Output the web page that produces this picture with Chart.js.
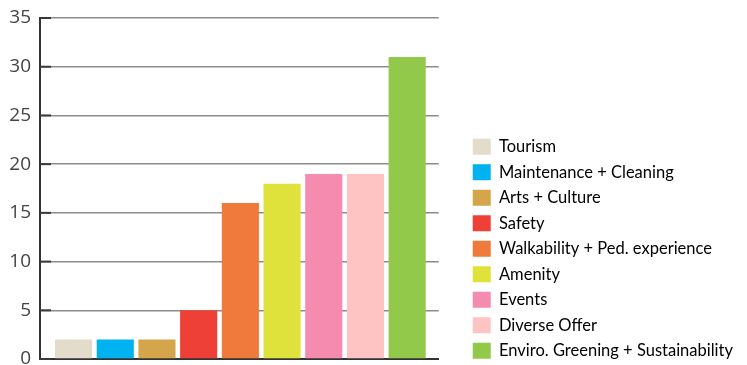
<!DOCTYPE html>
<html>
<head>
<meta charset="utf-8">
<script src="https://cdn.jsdelivr.net/npm/chart.js@4"></script>
<style>
  html, body { margin: 0; padding: 0; background: #fff; }
  #wrap { width: 747px; height: 365px; }
</style>
</head>
<body>
<div id="wrap"><canvas id="chart"></canvas></div>
<script>
const categories = ['Tourism', 'Maintenance + Cleaning', 'Arts + Culture', 'Safety',
  'Walkability + Ped. experience', 'Amenity', 'Events', 'Diverse Offer',
  'Enviro. Greening + Sustainability'];
const counts = [2, 2, 2, 5, 16, 18, 19, 19, 31];
const barColors = ['#e3dccb', '#00b2ef', '#d4a54a', '#ee4036', '#ef7a3b',
  '#dfe23b', '#f58bae', '#fec3c3', '#92c94b'];
const yTicks = [0, 5, 10, 15, 20, 25, 30, 35];

const legendFont = { family: 'Lato', size: 16.5 };
const legendPad = 9;
const boxW = 18;

// work out how wide the legend will be so the plot ends where it should
const mctx = document.createElement('canvas').getContext('2d');
mctx.font = legendFont.size + 'px ' + legendFont.family;
const longest = Math.max(...categories.map(c => mctx.measureText(c).width));
const legendWidth = Math.ceil(legendPad + boxW + legendFont.size / 2 + longest + 10);
const legendLeft = 472 - legendPad;
const padRight = 747 - legendLeft - legendWidth;

// short dark tick marks drawn on the inside of the y axis
const innerTicks = {
  id: 'innerTicks',
  afterDatasetsDraw(chart) {
    const { ctx, chartArea, scales: { y } } = chart;
    ctx.save();
    ctx.strokeStyle = '#3a3a3a';
    ctx.lineWidth = 2;
    y.ticks.forEach(t => {
      const py = y.getPixelForValue(t.value);
      ctx.beginPath();
      ctx.moveTo(chartArea.left, py);
      ctx.lineTo(chartArea.left + 11, py);
      ctx.stroke();
    });
    ctx.restore();
  }
};

new Chart(document.getElementById('chart'), {
  type: 'bar',
  data: {
    labels: categories,
    datasets: [{
      data: counts.map((v, i) => ({ x: i, y: v })),
      backgroundColor: barColors,
      borderWidth: 0,
      categoryPercentage: 1,
      barPercentage: 0.89,
    }],
  },
  options: {
    responsive: true,
    maintainAspectRatio: false,
    animation: false,
    layout: {
      padding: { top: 18, left: 0, bottom: -3, right: padRight },
    },
    plugins: {
      tooltip: { enabled: false },
      legend: {
        position: 'right',
        align: 'end',
        maxWidth: legendWidth,
        labels: {
          font: legendFont,
          color: '#4a4a4a',
          boxWidth: boxW,
          boxHeight: 16,
          padding: legendPad,
          generateLabels: () => categories.map((c, i) => ({
            text: c,
            fillStyle: barColors[i],
            strokeStyle: barColors[i],
            lineWidth: 0,
            hidden: false,
            index: i,
          })),
        },
      },
    },
    scales: {
      x: {
        type: 'linear',
        min: -0.805,
        max: 8.757,
        offset: false,
        ticks: { display: false },
        grid: { display: false },
        border: { display: true, color: '#333', width: 2 },
        afterFit: s => { s.height = 9; },
      },
      y: {
        min: 0,
        max: 35,
        afterBuildTicks: s => { s.ticks = yTicks.map(v => ({ value: v })); },
        ticks: {
          padding: 9,
          color: '#444',
          font: { family: 'Open Sans', size: 19, lineHeight: 1 },
        },
        grid: { color: '#8c8c8c', lineWidth: 1.5, drawTicks: false },
        border: { display: true, color: '#333', width: 2 },
        afterFit: s => { s.width = 40; s.paddingTop = 0; s.paddingBottom = 0; },
      },
      pad: {
        type: 'linear',
        position: 'right',
        display: true,
        ticks: { display: false },
        grid: { display: false },
        border: { display: false },
        afterFit: s => { s.width = 25; },
      },
    },
  },
  plugins: [innerTicks],
});
</script>
</body>
</html>
